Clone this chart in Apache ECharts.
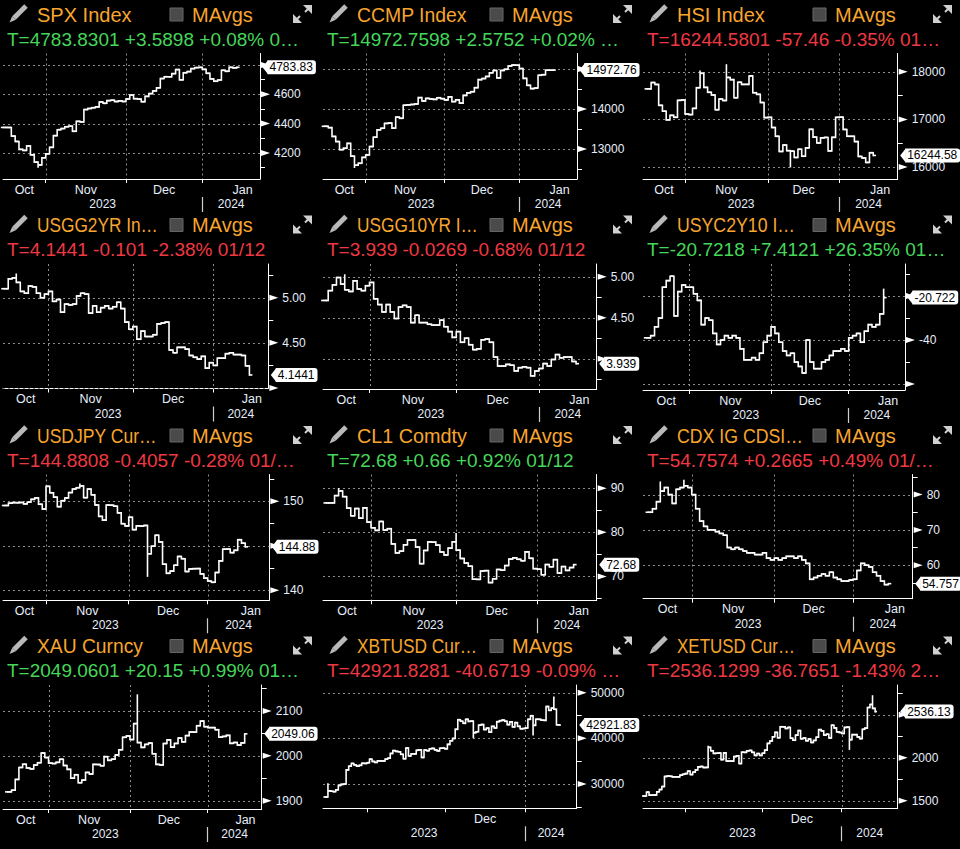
<!DOCTYPE html>
<html><head><meta charset="utf-8">
<script src="https://cdn.jsdelivr.net/npm/echarts@6/dist/echarts.min.js"></script>
<style>html,body{margin:0;padding:0;background:#000}#c{width:960px;height:849px}</style>
</head><body><div id="c"></div>
<script>
// ---------- calendars (categories) ----------
const usDays = ['10/16','10/17','10/18','10/19','10/20','10/23','10/24','10/25','10/26','10/27','10/30','10/31',
'11/01','11/02','11/03','11/06','11/07','11/08','11/09','11/10','11/13','11/14','11/15','11/16','11/17','11/20','11/21','11/22','11/24','11/27','11/28','11/29','11/30',
'12/01','12/04','12/05','12/06','12/07','12/08','12/11','12/12','12/13','12/14','12/15','12/18','12/19','12/20','12/21','12/22','12/26','12/27','12/28','12/29',
'01/02','01/03','01/04','01/05','01/08','01/09','01/10','01/11','01/12'];
const hkDays = ['10/16','10/17','10/18','10/19','10/20','10/24','10/25','10/26','10/27','10/30','10/31',
'11/01','11/02','11/03','11/06','11/07','11/08','11/09','11/10','11/13','11/14','11/15','11/16','11/17','11/20','11/21','11/22','11/23','11/24','11/27','11/28','11/29','11/30',
'12/01','12/04','12/05','12/06','12/07','12/08','12/11','12/12','12/13','12/14','12/15','12/18','12/19','12/20','12/21','12/22','12/27','12/28','12/29',
'01/02','01/03','01/04','01/05','01/08','01/09','01/10','01/11','01/12'];
const fxDays = ['10/16','10/17','10/18','10/19','10/20','10/23','10/24','10/25','10/26','10/27','10/30','10/31',
'11/01','11/02','11/03','11/06','11/07','11/08','11/09','11/10','11/13','11/14','11/15','11/16','11/17','11/20','11/21','11/22','11/23','11/24','11/27','11/28','11/29','11/30',
'12/01','12/04','12/05','12/06','12/07','12/08','12/11','12/12','12/13','12/14','12/15','12/18','12/19','12/20','12/21','12/22','12/25','12/26','12/27','12/28','12/29',
'01/01','01/02','01/03','01/04','01/05','01/08','01/09','01/10','01/11','01/12'];
const cryptoDays = ['10/15','10/16','10/17','10/18','10/19','10/20','10/21','10/22','10/23','10/24','10/25','10/26','10/27','10/28','10/29','10/30','10/31',
'11/01','11/02','11/03','11/04','11/05','11/06','11/07','11/08','11/09','11/10','11/11','11/12','11/13','11/14','11/15','11/16','11/17','11/18','11/19','11/20','11/21','11/22','11/23','11/24','11/25','11/26','11/27','11/28','11/29','11/30',
'12/01','12/02','12/03','12/04','12/05','12/06','12/07','12/08','12/09','12/10','12/11','12/12','12/13','12/14','12/15','12/16','12/17','12/18','12/19','12/20','12/21','12/22','12/23','12/24','12/25','12/26','12/27','12/28','12/29','12/30','12/31',
'01/01','01/02','01/03','01/04','01/05','01/06','01/07','01/08','01/09','01/10','01/11','01/12','01/13'];

// ---------- closes ----------
const spxClose = [4373.6,4373.2,4314.6,4278.0,4224.2,4217.0,4247.7,4186.8,4137.2,4117.4,4166.8,4193.8,
4237.9,4317.8,4358.3,4366.0,4378.4,4382.8,4347.4,4415.2,4411.6,4495.7,4502.9,4508.2,4514.0,4547.4,4538.2,4556.6,4559.3,4550.4,4554.9,4550.6,4567.8,
4594.6,4569.8,4567.2,4549.3,4585.6,4604.4,4622.4,4643.7,4707.1,4719.6,4719.2,4740.6,4768.4,4698.4,4746.8,4754.6,4774.8,4781.6,4783.4,4769.8,
4742.8,4704.8,4688.7,4697.2,4763.5,4756.5,4783.5,4780.2,4783.83];
const ccmpClose = [13568.0,13533.8,13314.3,13186.2,12983.8,13018.3,13139.9,12821.2,12595.6,12643.0,12789.5,12851.2,
13061.5,13294.2,13478.3,13518.8,13639.9,13650.4,13521.5,13798.1,13767.7,14094.4,14103.8,14113.7,14125.5,14284.5,14200.0,14265.9,14250.9,14241.0,14281.8,14258.5,14226.2,
14305.0,14185.5,14229.9,14147.0,14340.0,14404.0,14432.5,14533.4,14734.0,14761.6,14813.9,14905.2,14963.9,14777.9,14963.9,14993.0,15074.6,15099.2,15095.1,15011.4,
14765.9,14592.2,14510.3,14524.1,14843.8,14857.7,14969.7,14970.2,14972.76];
const hsiClose = [17640,17773,17732,17295,17172,16991,17085,17044,17399,17406,17112,
17101,17231,17664,17966,17671,17568,17511,17203,17427,17396,17879,17833,17454,17778,17733,17734,17911,17559,17525,17354,17038,17043,
16830,16646,16328,16463,16345,16334,16202,16374,16228,16403,16792,16629,16506,16613,16622,16341,16624,17043,17047,
16789,16646,16646,16535,16224,16191,16098,16302,16244.58];
const usgg2Close = [5.10,5.21,5.22,5.17,5.07,5.05,5.13,5.12,5.05,5.00,5.04,5.07,
4.96,4.98,4.84,4.93,4.92,4.93,5.02,5.05,5.04,4.83,4.91,4.84,4.89,4.91,4.88,4.90,4.95,4.88,4.73,4.65,4.68,
4.54,4.63,4.57,4.57,4.59,4.71,4.72,4.73,4.42,4.39,4.45,4.45,4.43,4.36,4.34,4.32,4.35,4.22,4.28,4.25,
4.33,4.33,4.38,4.39,4.37,4.37,4.36,4.2451,4.1441];
const usgg10Close = [4.71,4.83,4.90,4.99,4.91,4.84,4.82,4.95,4.85,4.83,4.89,4.93,
4.73,4.66,4.57,4.66,4.57,4.49,4.63,4.65,4.63,4.44,4.53,4.44,4.44,4.42,4.41,4.41,4.47,4.39,4.33,4.26,4.33,
4.20,4.25,4.17,4.11,4.12,4.23,4.24,4.20,4.02,3.91,3.91,3.93,3.92,3.85,3.89,3.90,3.89,3.79,3.85,3.88,
3.94,3.91,3.99,4.05,4.01,4.02,4.02,3.966,3.939];
const usycClose = [-39,-38,-34,-30,-16,-13,-11,-29,-18,-15,-16,-16,
-19,-22,-33,-30,-31,-37,-42,-40,-38,-39,-38,-39,-44,-49,-49,-48,-49,-46,-41,-38,-34,
-37,-41,-45,-47,-46,-50,-52,-55,-40,-50,-53,-53,-50,-49,-47,-45,-45,-44,-45,-39,
-38,-37,-41,-36,-33,-34,-33,-28.13,-20.72];
const jpyClose = [149.52,149.78,149.84,149.83,149.86,149.70,149.89,150.21,150.37,149.66,149.12,151.67,
150.95,150.46,149.39,150.06,150.37,150.97,151.37,151.52,151.72,150.40,151.37,150.72,149.58,148.30,147.88,149.57,149.55,149.44,148.69,147.48,147.22,148.20,
146.81,147.24,147.21,147.28,144.10,144.95,146.18,145.43,142.93,141.91,142.16,142.82,143.80,143.55,142.11,142.40,142.43,142.44,141.84,141.37,141.04,
140.90,142.00,143.30,144.62,144.63,144.23,144.49,145.68,145.29,144.88];
const cl1Close = [86.66,86.66,88.32,89.37,88.08,85.49,83.74,85.39,83.21,85.54,82.31,81.02,
80.44,82.46,80.51,80.82,77.37,75.33,75.74,77.17,78.26,78.26,76.66,72.90,75.89,77.83,77.77,77.10,75.54,74.86,76.41,77.86,75.96,
74.07,73.04,72.32,69.38,69.34,71.23,71.32,68.61,69.47,71.58,71.43,72.47,73.94,74.22,73.89,73.56,75.57,74.11,71.77,71.65,
70.38,72.70,72.19,73.81,70.77,72.24,71.37,72.02,72.68];
const cdxClose = [75,76,78,81,82,80,77.5,81.5,82,82.5,82,80,
76,72.5,71,70,70,69.5,69,68.5,65,64.5,65,64.5,64,63.5,63.5,63,63,63.5,62,61.5,62,
61.5,62,62.5,62.5,62,62.5,61.5,60.5,56,56.5,57,57.5,57,58,56.5,56,55.5,55.5,55.8,56,
58.5,60.5,60,59.5,58,57,55.5,54.49,54.76];
const xauClose = [1919.7,1923.4,1947.4,1974.1,1981.3,1972.9,1970.9,1979.6,1984.7,2006.4,1996.2,1983.9,
1982.9,1985.5,1992.4,1978.5,1969.9,1950.2,1957.9,1940.1,1946.0,1963.0,1959.5,1980.9,1980.7,1977.9,1998.2,1990.0,1992.6,2001.9,2013.6,2041.4,2044.3,2036.4,
2071.9,2029.6,2018.9,2025.6,2028.5,2004.7,1981.0,1979.7,2027.5,2035.6,2019.4,2027.7,2039.7,2031.2,2045.2,2053.1,2053.0,2067.2,2077.5,2065.1,2063.0,
2063.0,2058.3,2041.7,2043.4,2045.6,2027.9,2029.8,2024.0,2028.9,2049.06];
const xbtClose = [27150,28500,28415,28328,28720,29683,29919,29993,33086,33901,34502,34156,33909,34089,34538,34502,34667,
35437,34938,34732,35082,35049,35037,35443,35655,36693,37313,37138,37054,36502,35537,37880,36154,36596,36585,37386,37476,35813,37432,37289,37720,37796,37479,37254,37831,37858,37712,
38688,39476,39978,41980,44080,43746,43293,44166,43726,43779,41244,41450,42890,43023,41930,42240,41364,42623,42270,43652,43869,43997,43739,43016,43613,42520,43442,42627,42100,42157,42265,
44168,44958,42848,44180,44162,43989,43943,46970,46139,46627,46369,42962,42921.83];
const xetClose = [1555,1600,1565,1565,1567,1604,1630,1665,1782,1787,1784,1777,1777,1777,1797,1807,1815,
1844,1804,1832,1858,1893,1898,1886,1887,2120,2081,2050,2052,2055,1978,2056,1961,1961,1960,2013,2022,1932,2064,2062,2080,2084,2062,2027,2048,2027,2052,
2088,2166,2194,2243,2294,2232,2360,2359,2340,2352,2226,2203,2262,2315,2220,2229,2197,2217,2177,2201,2238,2326,2312,2263,2273,2229,2378,2346,2300,2293,2282,
2352,2355,2210,2268,2268,2241,2222,2330,2344,2583,2619,2572.9,2536.13];

// ---------- intraday extremes: [index, value] ----------
const spxWicks = [[9,4103.8]];
const ccmpWicks = [[8,12543.9]];
const hsiWicks = [[14,18010],[21,18140],[38,16010]];
const usgg2Wicks = [[3,5.26]];
const usgg10Wicks = [[5,5.02]];
const usycWicks = [[61,-17]];
const jpyWicks = [[38,141.6],[20,151.9]];
const cl1Wicks = [[3,89.85],[32,79.67]];
const cdxWicks = [[3,83.5],[9,84]];
const xauWicks = [[35,2135.4]];
const xbtWicks = [[1,30000],[57,40200],[80,40800],[88,49000]];
const xetWicks = [[25,2130],[80,2100],[89,2717]];

// ---------- axis ticks ----------
const spxMajor=[4200,4400,4600,4800], spxMinor=[4100,4300,4500,4700];
const ccmpMajor=[13000,14000,15000], ccmpMinor=[12500,13500,14500];
const hsiMajor=[16000,17000,18000], hsiMinor=[16500,17500];
const usgg2Major=[4.0,4.5,5.0], usgg2Minor=[4.25,4.75,5.25];
const usgg10Major=[4.0,4.5,5.0], usgg10Minor=[3.75,4.25,4.75];
const usycMajor=[-60,-40,-20], usycMinor=[-50,-30,-10];
const jpyMajor=[140,145,150], jpyMinor=[142.5,147.5,152.5];
const cl1Major=[70,80,90], cl1Minor=[65,75,85];
const cdxMajor=[60,70,80], cdxMinor=[55,65,75,85];
const xauMajor=[1900,2000,2100], xauMinor=[1950,2050,2150];
const xbtMajor=[30000,40000,50000], xbtMinor=[25000,35000,45000];
const xetMajor=[1500,2000,2500], xetMinor=[1750,2250,2750];

const G='#45d65a', R='#f03843', OR='#f7a52e', AX='#e6eefb';
const FONT='"Liberation Sans", Arial, sans-serif';

const panels = [
 {name:'SPX Index', tw:96, tl:'T=4783.8301 +3.5898 +0.08% 0\u2026', tc:G, days:usDays, close:spxClose, wicks:spxWicks, major:spxMajor, minor:spxMinor, hide:[4800], dec:0, last:'4783.83', ymin:4022, ymax:4878, xmin:-0.18, xmax:67.1, ax:260, bot:179},
 {name:'CCMP Index', tw:110, tl:'T=14972.7598 +2.5752 +0.02% \u2026', tc:G, days:usDays, close:ccmpClose, wicks:ccmpWicks, major:ccmpMajor, minor:ccmpMinor, hide:[15000], dec:0, last:'14972.76', ymin:12250, ymax:15388, xmin:-0.4, xmax:67.4, ax:257, bot:179},
 {name:'HSI Index', tw:94, tl:'T=16244.5801 -57.46 -0.35% 01\u2026', tc:R, days:hkDays, close:hsiClose, wicks:hsiWicks, major:hsiMajor, minor:hsiMinor, hide:[], dec:0, last:'16244.58', ymin:15751, ymax:18381, xmin:-1.16, xmax:66.5, ax:257.7, bot:179},
 {name:'USGG2YR In\u2026', tw:121, tl:'T=4.1441 -0.101 -2.38% 01/12', tc:R, days:usDays, close:usgg2Close, wicks:usgg2Wicks, major:usgg2Major, minor:usgg2Minor, hide:[4.0], dec:2, last:'4.1441', ymin:3.994, ymax:5.374, xmin:-0.3, xmax:65.7, ax:268.3, bot:178},
 {name:'USGG10YR I\u2026', tw:121, tl:'T=3.939 -0.0269 -0.68% 01/12', tc:R, days:usDays, close:usgg10Close, wicks:usgg10Wicks, major:usgg10Major, minor:usgg10Minor, hide:[4.0], dec:2, last:'3.939', ymin:3.63, ymax:5.155, xmin:-0.26, xmax:66.0, ax:276.7, bot:178.5},
 {name:'USYC2Y10 I\u2026', tw:118, tl:'T=-20.7218 +7.4121 +26.35% 01\u2026', tc:G, days:usDays, close:usycClose, wicks:usycWicks, major:usycMajor, minor:usycMinor, hide:[-20,-60], dec:0, last:'-20.722', ymin:-62.7, ymax:-5.45, xmin:-0.97, xmax:66.5, ax:265, bot:179.5},
 {name:'USDJPY Cur\u2026', tw:120, tl:'T=144.8808 -0.4057 -0.28% 01/\u2026', tc:R, days:fxDays, close:jpyClose, wicks:jpyWicks, major:jpyMajor, minor:jpyMinor, hide:[145], dec:0, last:'144.88', ymin:138.88, ymax:153.0, xmin:-0.44, xmax:70.4, ax:269.3, bot:179.3},
 {name:'CL1 Comdty', tw:110, tl:'T=72.68 +0.66 +0.92% 01/12', tc:G, days:usDays, close:cl1Close, wicks:cl1Wicks, major:cl1Major, minor:cl1Minor, hide:[], dec:0, last:'72.68', ymin:64.6, ymax:93.1, xmin:-0.85, xmax:66.7, ax:276.7, bot:179.3},
 {name:'CDX IG CDSI\u2026', tw:126, tl:'T=54.7574 +0.2665 +0.49% 01/\u2026', tc:R, days:usDays, close:cdxClose, wicks:cdxWicks, major:cdxMajor, minor:cdxMinor, hide:[], dec:0, last:'54.757', ymin:50.5, ymax:85.7, xmin:-1.4, xmax:67.2, ax:272.7, bot:177.7},
 {name:'XAU Curncy', tw:106, tl:'T=2049.0601 +20.15 +0.99% 01\u2026', tc:G, days:fxDays, close:xauClose, wicks:xauWicks, major:xauMajor, minor:xauMinor, hide:[], dec:0, last:'2049.06', ymin:1881.5, ymax:2158, xmin:-1.3, xmax:68.6, ax:261.7, bot:177.5},
 {name:'XBTUSD Cur\u2026', tw:120, tl:'T=42921.8281 -40.6719 -0.09% \u2026', tc:R, days:cryptoDays, close:xbtClose, wicks:xbtWicks, major:xbtMajor, minor:xbtMinor, hide:[], dec:0, last:'42921.83', ymin:24677, ymax:51687, xmin:-0.9, xmax:96.8, ax:256.7, bot:176.8, crypto:true},
 {name:'XETUSD Cur\u2026', tw:118, tl:'T=2536.1299 -36.7651 -1.43% 2\u2026', tc:R, days:cryptoDays, close:xetClose, wicks:xetWicks, major:xetMajor, minor:xetMinor, hide:[2500], dec:0, last:'2536.13', ymin:1412, ymax:2845, xmin:-0.35, xmax:98.8, ax:257.7, bot:176.8, crypto:true}
];

const mctx=document.createElement('canvas').getContext('2d');
function fitScale(text, size, target){ mctx.font=size+'px '+FONT; const w=mctx.measureText(text).width; return w>target ? target/w : 1; }
function monthFirsts(days){ const f=[]; for(let i=1;i<days.length;i++){ if(days[i].slice(0,2)!==days[i-1].slice(0,2)) f.push(i); } return f; }
function nearestLabel(list, v){ let best=null,bd=1e9; list.forEach(o=>{const d=Math.abs(o.v-v); if(d<bd){bd=d;best=o;}}); return best?best.t:''; }

function barItem(params, api){
  const i=api.value(0), o=api.value(1), c=api.value(2), lo=api.value(3), hi=api.value(4);
  const pH=api.coord([i,hi]), pL=api.coord([i,lo]), pO=api.coord([i,o]), pC=api.coord([i,c]);
  const w=Math.min(3, api.size([1,0])[0]*0.75);
  const x=pH[0];
  const st={stroke:'#ffffff', lineWidth:1.6};
  return {type:'group', children:[
    {type:'line', shape:{x1:x,y1:pH[1]-0.8,x2:x,y2:pL[1]+0.8}, style:st},
    {type:'line', shape:{x1:x-w,y1:pO[1],x2:x,y2:pO[1]}, style:st},
    {type:'line', shape:{x1:x,y1:pC[1],x2:x+w,y2:pC[1]}, style:st}
  ]};
}
const dotStyle={stroke:'#8c8c8c', lineWidth:1, lineDash:[2,3]};
function hItem(params, api){
  const y=Math.round(api.coord([api.value(0),api.value(1)])[1])+0.5, cs=params.coordSys;
  return {type:'line', shape:{x1:cs.x,y1:y,x2:cs.x+cs.width,y2:y}, style:dotStyle};
}
function vItem(params, api){
  const x=Math.round(api.coord([api.value(0),api.value(1)])[0])+0.5, cs=params.coordSys;
  return {type:'line', shape:{x1:x,y1:cs.y,x2:x,y2:cs.y+cs.height}, style:dotStyle};
}
function arrowItem(params, api){
  const p=api.coord([api.value(0),api.value(1)]);
  const x=p[0], y=p[1];
  return {type:'polygon', shape:{points:[[x+1,y-3],[x+1,y+3],[x+10,y]]}, style:{fill:'#ffffff'}};
}
function boxItem(txt){
  return function(params, api){
    const p=api.coord([api.value(0),api.value(1)]);
    const x=p[0], y=p[1];
    return {type:'group', children:[
      {type:'polygon', shape:{points:[[x+2.5,y],[x+8,y-7],[x+8,y+7]]}, style:{fill:'#ffffff'}},
      {type:'text', x:x+7.5, y:y, style:{text:txt, fill:'#000000', fontSize:12, fontFamily:FONT, backgroundColor:'#ffffff', padding:[1,3,1,2], borderRadius:[0,3,3,0], verticalAlign:'middle', align:'left', lineHeight:12}}
    ]};
  };
}

const option={backgroundColor:'#000000', animation:false, textStyle:{fontFamily:FONT}, grid:[], xAxis:[], yAxis:[], series:[], graphic:[]};

panels.forEach((p,k)=>{
  const col=k%3, row=Math.floor(k/3);
  const X0=col*320, Y0=row*210.5;
  const top=Y0+53.5;
  option.grid.push({left:X0+3, top:top, width:p.ax-3, height:p.bot-53.5, containLabel:false, show:false});
  const firsts=monthFirsts(p.days);
  const b=firsts.map(i=>i-1);
  const bJan=b[2];
  let mLabels;
  if(p.crypto){
    mLabels=[{v:(b[1]+b[2])/2, t:'Dec'}];
  } else {
    mLabels=[{v:(p.xmin+b[0])/2, t:'Oct'},{v:(b[0]+b[1])/2, t:'Nov'},{v:(b[1]+b[2])/2, t:'Dec'},{v:bJan+0.7*(p.xmax-bJan), t:'Jan'}];
  }
  const yLabels=[{v:(p.xmin+bJan)/2, t:'2023'},{v:(bJan+p.xmax)/2, t:'2024'}];
  option.xAxis.push({gridIndex:k, type:'value', min:p.xmin, max:p.xmax, position:'bottom',
    axisLine:{show:true, onZero:false, lineStyle:{color:'#ffffff', width:1}},
    axisTick:{show:true, customValues:b, length:4, lineStyle:{color:'#ffffff'}},
    axisLabel:{show:true, customValues:mLabels.map(o=>o.v), formatter:(v)=>nearestLabel(mLabels,v), color:AX, fontSize:12.5, fontFamily:FONT, margin:4},
    splitLine:{show:false}});
  option.xAxis.push({gridIndex:k, type:'value', min:p.xmin, max:p.xmax, position:'bottom', offset:18,
    axisLine:{show:false, onZero:false},
    axisTick:{show:true, customValues:[bJan], length:15, lineStyle:{color:'#cfcfcf', width:1.2}},
    axisLabel:{show:true, customValues:yLabels.map(o=>o.v), formatter:(v)=>nearestLabel(yLabels,v), color:AX, fontSize:12, fontFamily:FONT, margin:1},
    splitLine:{show:false}});
  const hide=p.hide;
  option.yAxis.push({gridIndex:k, type:'value', position:'right', min:p.ymin, max:p.ymax,
    axisLine:{show:true, onZero:false, lineStyle:{color:'#ffffff', width:1}},
    axisTick:{show:true, inside:false, customValues:p.minor, length:5, lineStyle:{color:'#ffffff'}},
    axisLabel:{show:true, customValues:p.major, margin:14, color:AX, fontSize:12, fontFamily:FONT,
      formatter:(v)=> hide.some(h=>Math.abs(h-v)<1e-9) ? '' : Number(v).toFixed(p.dec)},
    splitLine:{show:false}});
  const xi=2*k;
  const wmap={}; p.wicks.forEach(w=>{wmap[w[0]]=w[1];});
  const data=p.close.map((c,i)=>{
    const o=i>0?p.close[i-1]:c;
    let lo=Math.min(o,c), hi=Math.max(o,c);
    if(wmap[i]!==undefined){ hi=Math.max(hi,wmap[i]); lo=Math.min(lo,wmap[i]); }
    return [i,o,c,lo,hi];
  });
  option.series.push({type:'custom', xAxisIndex:xi, yAxisIndex:k, z:1, silent:true, renderItem:hItem, data:p.major.map(v=>[p.xmin,v]), encode:{x:0,y:1}});
  const vb=p.crypto?[bJan]:b;
  option.series.push({type:'custom', xAxisIndex:xi, yAxisIndex:k, z:1, silent:true, renderItem:vItem, data:vb.map(v=>[v,p.ymin]), encode:{x:0,y:1}});
  option.series.push({type:'custom', xAxisIndex:xi, yAxisIndex:k, z:3, silent:true, clip:false, renderItem:barItem, data:data, encode:{x:0,y:[1,2,3,4]}});
  option.series.push({type:'custom', xAxisIndex:xi, yAxisIndex:k, z:4, silent:true, clip:false, renderItem:arrowItem, data:p.major.map(v=>[p.xmax,v]), encode:{x:0,y:1}});
  option.series.push({type:'custom', xAxisIndex:xi, yAxisIndex:k, z:5, silent:true, clip:false, renderItem:boxItem(p.last), data:[[p.xmax,p.close[p.close.length-1]]], encode:{x:0,y:1}});
  const sqx = col<2 ? 170 : 173;
  const ts = fitScale(p.name, 20, p.tw);
  option.graphic.push({type:'group', x:X0, y:Y0, silent:true, children:[
    {type:'line', shape:{x1:14,y1:18,x2:26,y2:6}, style:{stroke:'#b9b9b9', lineWidth:5}},
    {type:'polygon', shape:{points:[[9.5,22.5],[12.2,16.2],[15.8,19.8]]}, style:{fill:'#b9b9b9'}},
    {type:'text', x:37, y:14.7, scaleX:ts, style:{text:p.name, fill:OR, fontSize:20, fontFamily:FONT, verticalAlign:'middle', align:'left'}},
    {type:'rect', shape:{x:sqx, y:8, width:13, height:13}, style:{fill:'#4a4a4a', stroke:'#666666', lineWidth:1}},
    {type:'text', x:sqx+22, y:14.7, style:{text:'MAvgs', fill:OR, fontSize:20, fontFamily:FONT, verticalAlign:'middle', align:'left'}},
    {type:'polygon', shape:{points:[[303,5],[312,5],[312,14]]}, style:{fill:'#d0d0d0'}},
    {type:'line', shape:{x1:311,y1:6,x2:305,y2:12}, style:{stroke:'#d0d0d0', lineWidth:2}},
    {type:'polygon', shape:{points:[[293,14],[293,23],[302,23]]}, style:{fill:'#d0d0d0'}},
    {type:'line', shape:{x1:294,y1:22,x2:300,y2:16}, style:{stroke:'#d0d0d0', lineWidth:2}},
    {type:'text', x:7, y:39.2, style:{text:p.tl, fill:p.tc, fontSize:19, fontFamily:FONT, verticalAlign:'middle', align:'left'}}
  ]});
});

const chart=echarts.init(document.getElementById('c'), null, {renderer:'svg', width:960, height:849});
chart.setOption(option);
</script>
</body></html>
